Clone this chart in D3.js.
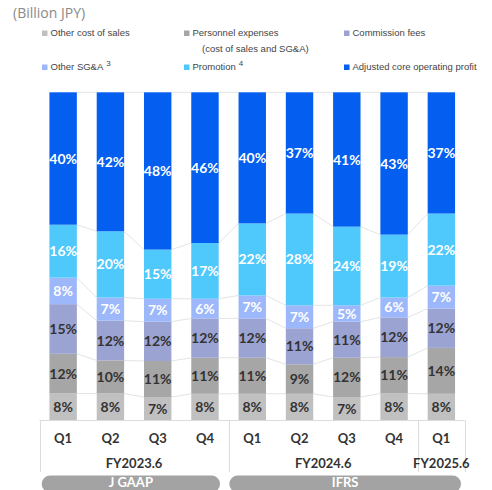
<!DOCTYPE html>
<html>
<head>
<meta charset="utf-8">
<script src="https://cdn.jsdelivr.net/npm/d3@7"></script>
<style>
  html, body { margin: 0; padding: 0; background: #fff; }
  svg { display: block; }
</style>
</head>
<body>
<svg id="chart" width="492" height="490"></svg>
<script>
// Quarters and fiscal-year grouping
const quarters = ["Q1", "Q2", "Q3", "Q4", "Q1", "Q2", "Q3", "Q4", "Q1"];
const fiscalYears = ["FY2023.6", "FY2024.6", "FY2025.6"];
const fyQuarterCounts = [4, 4, 1];
const standards = ["J GAAP", "IFRS"];

// Cost / profit composition (% of revenue), bottom to top
const otherCostOfSales = [8, 8, 7, 8, 8, 8, 7, 8, 8];
const personnelExpenses = [12, 10, 11, 11, 11, 9, 12, 11, 14];
const commissionFees = [15, 12, 12, 12, 12, 11, 11, 12, 12];
const otherSGA = [8, 7, 7, 6, 7, 7, 5, 6, 7];
const promotion = [16, 20, 15, 17, 22, 28, 24, 19, 22];
const adjustedProfit = [40, 42, 48, 46, 40, 37, 41, 43, 37];

const seriesNames = ["Other cost of sales", "Personnel expenses", "Commission fees",
                     "Other SG&A", "Promotion", "Adjusted core operating profit"];
const seriesValues = [otherCostOfSales, personnelExpenses, commissionFees,
                      otherSGA, promotion, adjustedProfit];
const colors = ["#c0c0c0", "#a6a6a6", "#9ba3d2", "#9db8fa", "#4fc8fc", "#045ff0"];
const labelColors = ["#333", "#333", "#333", "#fff", "#fff", "#fff"];

const svg = d3.select("#chart");

const rows = quarters.map((q, i) => {
  const r = { idx: i };
  seriesNames.forEach((n, k) => r[n] = seriesValues[k][i]);
  return r;
});

const stack = d3.stack().keys(seriesNames).offset(d3.stackOffsetExpand);
const layers = stack(rows);

const x = d3.scaleBand()
  .domain(d3.range(quarters.length))
  .range([39.5, 465])
  .paddingInner(0.42)
  .paddingOuter(0.21);
const y = d3.scaleLinear().domain([0, 1]).range([420, 92.3]);

// connector lines between neighbouring bars
const conn = svg.append("g").attr("stroke", "#e4e4e4").attr("stroke-width", 1).attr("fill", "none");
layers.forEach(layer => {
  for (let i = 0; i < layer.length - 1; i++) {
    conn.append("line")
      .attr("x1", x(i) + x.bandwidth()).attr("y1", y(layer[i][1]))
      .attr("x2", x(i + 1)).attr("y2", y(layer[i + 1][1]));
  }
});

// stacked bars
const g = svg.append("g");
layers.forEach((layer, k) => {
  g.selectAll(null).data(layer).enter().append("rect")
    .attr("x", (d, i) => x(i))
    .attr("width", x.bandwidth())
    .attr("y", d => y(d[1]))
    .attr("height", d => y(d[0]) - y(d[1]))
    .attr("fill", colors[k]);
});

// segment labels
layers.forEach((layer, k) => {
  g.selectAll(null).data(layer).enter().append("text")
    .attr("x", (d, i) => x(i) + x.bandwidth() / 2)
    .attr("y", d => (y(d[0]) + y(d[1])) / 2)
    .attr("dy", "0.36em")
    .attr("text-anchor", "middle")
    .attr("font-family", "Lato, 'Open Sans', sans-serif")
    .attr("font-weight", "bold")
    .attr("font-size", 14)
    .attr("fill", labelColors[k])
    .text((d, i) => seriesValues[k][i] + "%");
});

// category table
const tbl = svg.append("g").attr("stroke", "#dcdcdc").attr("stroke-width", 1);
tbl.append("line").attr("x1", 39.5).attr("x2", 464.5).attr("y1", 420.5).attr("y2", 420.5);
let start = 0;
const fyBounds = fyQuarterCounts.map(c => {
  const b = [start, start + c - 1];
  start += c;
  return b;
});
const boundaryX = [39.5];
fyBounds.forEach((b, j) => {
  const right = j < fyBounds.length - 1
    ? (x(b[1]) + x.bandwidth() + x(b[1] + 1)) / 2
    : 464.5;
  boundaryX.push(right);
});
boundaryX.forEach(bx => {
  tbl.append("line").attr("x1", Math.round(bx) + 0.5).attr("x2", Math.round(bx) + 0.5)
    .attr("y1", 420).attr("y2", 472);
});

svg.append("g").selectAll("text").data(quarters).enter().append("text")
  .attr("x", (d, i) => x(i) + x.bandwidth() / 2)
  .attr("y", 438)
  .attr("dy", "0.36em")
  .attr("text-anchor", "middle")
  .attr("font-family", "Lato, sans-serif")
  .attr("font-weight", "bold")
  .attr("font-size", 13)
  .attr("fill", "#333")
  .text(d => d);

svg.append("g").selectAll("text").data(fiscalYears).enter().append("text")
  .attr("x", (d, j) => fyBounds[j][0] === fyBounds[j][1]
      ? x(fyBounds[j][0]) + x.bandwidth() / 2
      : (boundaryX[j] + boundaryX[j + 1]) / 2)
  .attr("y", 463)
  .attr("dy", "0.36em")
  .attr("text-anchor", "middle")
  .attr("font-family", "Lato, sans-serif")
  .attr("font-weight", "bold")
  .attr("font-size", 13)
  .attr("fill", "#333")
  .text(d => d);

// accounting-standard pills
const pills = [
  { label: standards[0], x0: 41.7, x1: 220 },
  { label: standards[1], x0: 229.3, x1: 461 }
];
const pg = svg.append("g");
pills.forEach(p => {
  pg.append("rect").attr("x", p.x0).attr("y", 475.5).attr("width", p.x1 - p.x0)
    .attr("height", 17).attr("rx", 8.5).attr("fill", "#a3a3a3");
  pg.append("text").attr("x", (p.x0 + p.x1) / 2).attr("y", 482.5)
    .attr("dy", "0.36em").attr("text-anchor", "middle")
    .attr("font-family", "Lato, sans-serif").attr("font-weight", "bold")
    .attr("font-size", 13).attr("fill", "#fff").text(p.label);
});

// unit note
svg.append("text").attr("x", 13).attr("y", 17.5)
  .attr("font-family", "'Open Sans', sans-serif").attr("font-size", 14)
  .attr("fill", "#8a8a8a").text("(Billion JPY)");

// legend
const legend = [
  { k: 0, x: 42, y: 33 },
  { k: 1, x: 184, y: 33, sub: "(cost of sales and SG&A)" },
  { k: 2, x: 344, y: 33 },
  { k: 3, x: 42, y: 67, sup: "3" },
  { k: 4, x: 184, y: 67, sup: "4" },
  { k: 5, x: 344, y: 67 }
];
const lg = svg.append("g").attr("font-family", "'Liberation Sans', Arial, sans-serif")
  .attr("font-size", 9.5).attr("fill", "#444");
legend.forEach(it => {
  lg.append("rect").attr("x", it.x).attr("y", it.y - 2.5).attr("width", 5.5).attr("height", 5.5)
    .attr("fill", colors[it.k]);
  const t = lg.append("text").attr("x", it.x + 8.5).attr("y", it.y).attr("dy", "0.36em");
  t.append("tspan").text(seriesNames[it.k]);
  if (it.sup) {
    t.append("tspan").attr("dx", 3).attr("dy", "-0.6em").attr("font-size", 8).text(it.sup);
  }
  if (it.sub) {
    lg.append("text").attr("x", it.x + 18).attr("y", it.y + 16).attr("dy", "0.36em").text(it.sub);
  }
});
</script>
</body>
</html>
